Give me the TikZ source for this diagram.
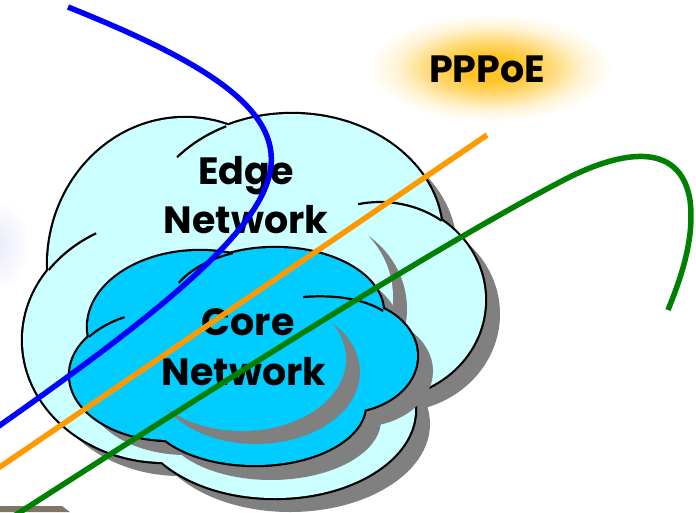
\documentclass[tikz,border=0pt]{standalone}
\usepackage{fontspec}
\newfontfamily\cloudfont{Poppins}
\usetikzlibrary{calc}

\definecolor{edgecyan}{HTML}{CCFFFF}
\definecolor{corecyan}{HTML}{00CCFF}
\definecolor{shadowgrey}{HTML}{808080}
\definecolor{pppblue}{HTML}{0000FF}
\definecolor{ppporange}{HTML}{FF9900}
\definecolor{pppgreen}{HTML}{008000}
\definecolor{glowgold}{RGB}{255,196,40}
\definecolor{glowlilac}{RGB}{232,234,249}
\definecolor{barbrown}{RGB}{128,118,104}

\pgfdeclareradialshading{pppoeglow}{\pgfpoint{0bp}{0bp}}{color(0bp)=(glowgold); color(6bp)=(glowgold); color(13bp)=(glowgold!60!white); color(19bp)=(glowgold!20!white); color(25bp)=(white); color(50bp)=(white)}

% lobes: centre x / centre y / x radius / y radius
\newcommand{\edgelobes}{185/265/137/147, 292/235/150/121, 380/300/105/98, 275/410/140/88, 165/340/142/122}
\newcommand{\corelobes}{200/327/112/76, 275/312/108/64, 343/356/74/56, 170/375/100/65, 255/405/110/60}

\tikzset{
  cloudline/.style={draw=black, line width=2.2pt},
  cloudrim/.style={draw=black, line width=4.4pt},
  cloudshadow/.style={fill=shadowgrey},
  cloudlabel/.style={font=\cloudfont\bfseries\fontsize{38}{38}\selectfont, anchor=base, inner sep=0pt},
  wire/.style={line width=5.5pt}
}

\begin{document}
\begin{tikzpicture}[x=1pt, y=-1pt]
\clip (0,0) rectangle (696,512);
% glows
\shade[shading=pppoeglow] (490,68) ellipse [x radius=122, y radius=54];
\shade[inner color=glowlilac, outer color=white] (-5,245) ellipse [x radius=36, y radius=46];

% edge cloud
\fill[cloudshadow] foreach \x/\y/\a/\b in \edgelobes {(\x+15,\y+14) ellipse [x radius=\a, y radius=\b]};
\path[cloudrim] foreach \x/\y/\a/\b in \edgelobes {(\x,\y) ellipse [x radius=\a, y radius=\b]};
\fill[edgecyan] foreach \x/\y/\a/\b in \edgelobes {(\x,\y) ellipse [x radius=\a, y radius=\b]};
\begin{scope}
  \clip foreach \x/\y/\a/\b in \edgelobes {(\x,\y) ellipse [x radius=\a, y radius=\b]};
  \fill[shadowgrey] (309,309) ellipse [x radius=98, y radius=92];
  \fill[edgecyan] (295,297) ellipse [x radius=98, y radius=92];
\end{scope}
\draw[cloudline] (292,235) ++(220:150 and 121) arc[start angle=220, end angle=244, x radius=150, y radius=121];
\draw[cloudline] (165,340) ++(215:142 and 122) arc[start angle=215, end angle=241, x radius=142, y radius=122];
\draw[cloudline] (380,300) ++(258:105 and 98) arc[start angle=258, end angle=306, x radius=105, y radius=98];

% core cloud
\fill[cloudshadow] foreach \x/\y/\a/\b in \corelobes {(\x+16,\y+15) ellipse [x radius=\a, y radius=\b]};
\path[cloudrim] foreach \x/\y/\a/\b in \corelobes {(\x,\y) ellipse [x radius=\a, y radius=\b]};
\fill[corecyan] foreach \x/\y/\a/\b in \corelobes {(\x,\y) ellipse [x radius=\a, y radius=\b]};
\begin{scope}
  \clip foreach \x/\y/\a/\b in \corelobes {(\x,\y) ellipse [x radius=\a, y radius=\b]};
  \fill[shadowgrey] (256,372) ellipse [x radius=104, y radius=72];
  \fill[corecyan] (242,359) ellipse [x radius=104, y radius=72];
\end{scope}
\draw[cloudline] (275,312) ++(207:108 and 64) arc[start angle=207, end angle=247, x radius=108, y radius=64];
\draw[cloudline] (170,375) ++(216:100 and 65) arc[start angle=216, end angle=243, x radius=100, y radius=65];
\draw[cloudline] (303,297) .. controls (340,294) and (368,301) .. (383,311);

% labels
\node[cloudlabel] (edgeword) at (246,184) {Edge};
\node[cloudlabel] (edgenet) at (246,233) {Network};
\node[cloudlabel] (coreword) at (248,335) {Core};
\node[cloudlabel] (corenet) at (244,385) {Network};
\node[cloudlabel] (pppoe) at (487,82) {PPPoE};

\fill[barbrown] (0,506) -- (62,506) -- (70,512) -- (0,512) -- cycle;

% sessions
\draw[wire, pppblue] (68,7) .. controls (200,60) and (290,110) .. (268,180) .. controls (250,240) and (150,320) .. (-4,428);
\draw[wire, ppporange] (487,135) -- (-6,471);
\draw[wire, pppgreen] (14,516) .. controls (210,390) and (430,250) .. (560,182) .. controls (620,150) and (680,140) .. (690,200) .. controls (695,240) and (680,280) .. (668,310);
\end{tikzpicture}
\end{document}
